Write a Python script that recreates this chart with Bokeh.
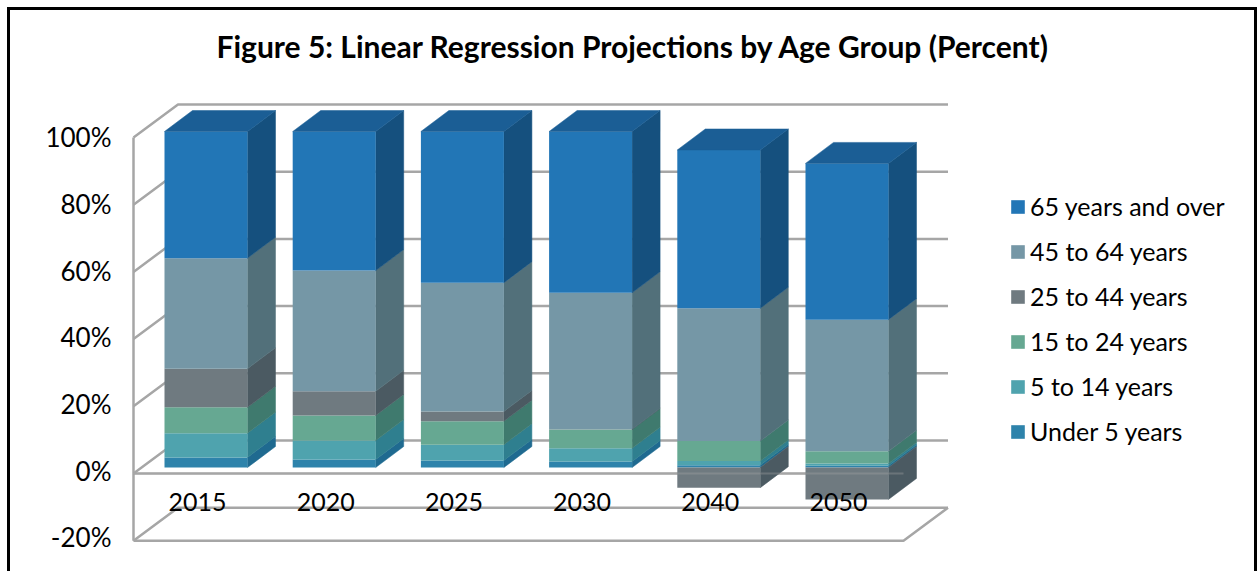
from bokeh.plotting import figure
from bokeh.embed import file_html
from bokeh.resources import INLINE
from bokeh.models import Range1d, FixedTicker, Legend, LegendItem, NumeralTickFormatter

years = ["2015", "2020", "2025", "2030", "2040", "2050"]
under_5 = [3.0, 2.4, 2.1, 1.8, 0.7, 0.5]
age_5_14 = [7.2, 5.6, 4.7, 3.9, 1.2, 0.7]
age_15_24 = [7.7, 7.5, 7.0, 5.6, 6.0, 3.6]
age_25_44 = [11.5, 7.2, 2.9, 0.1, -6.0, -9.5]
age_45_64 = [32.9, 35.9, 38.3, 40.6, 39.5, 39.2]
age_65_up = [37.7, 41.4, 45.0, 48.0, 47.1, 46.5]
series_names = ["Under 5 years", "5 to 14 years", "15 to 24 years", "25 to 44 years", "45 to 64 years", "65 years and over"]
y_ticks = [-20, 0, 20, 40, 60, 80, 100]

series = [under_5, age_5_14, age_15_24, age_25_44, age_45_64, age_65_up]
front = ["#2e83ab", "#4fa3ae", "#66a892", "#6f7a80", "#7597a6", "#2276b6"]
side = ["#1f6a90", "#2f7f8f", "#3f7a6e", "#4b5a62", "#52707a", "#15507e"]
top_col = "#1b5e95"
FONT = "Lato"

# page geometry (px)
BOX_L, BOX_T, BOX_W, BOX_H = 7, 7, 1250, 564
CV_L, CV_T = BOX_L + 3, BOX_T + 3
FR_L, FR_T, FR_R, FR_B = 116, 68, 1250, 555
SX, SY = 128.2, 3.36           # px per category, px per percent
def yr(zero_px, s):
    return Range1d(start=(zero_px - FR_B) / s, end=(zero_px - FR_T) / s)
def xr(zero_px):
    return Range1d(start=(FR_L - zero_px) / SX, end=(FR_R - zero_px) / SX)

p = figure(width=BOX_W, height=BOX_H, output_backend="svg", toolbar_location=None,
           x_range=xr(197), y_range=yr(470, 400 / 120),
           min_border_left=FR_L - CV_L, min_border_right=10,
           min_border_top=FR_T - CV_T, min_border_bottom=19,
           background_fill_color="white", border_fill_color="white",
           styles={"margin-left": f"{BOX_L}px", "margin-top": f"{BOX_T}px",
                   "border-left": "3px solid #000", "border-right": "3px solid #000",
                   "border-top": "3px solid #000", "box-sizing": "border-box"})
p.extra_x_ranges = {"bars": xr(205.5)}
p.extra_y_ranges = {"bars": yr(467, SY), "wall": yr(473, SY)}
p.outline_line_color = None
p.grid.visible = False

p.title.text = "Figure 5: Linear Regression Projections by Age Group (Percent)"
p.title.text_font = FONT
p.title.text_font_style = "bold"
p.title.text_font_size = "30px"
p.title.text_color = "#000000"
p.title.align = "left"
p.title.offset = 216 - FR_L

ya = p.yaxis[0]
ya.ticker = FixedTicker(ticks=y_ticks)
ya.formatter = NumeralTickFormatter(format="0")
ya.major_label_overrides = {t: f"{t}%" for t in y_ticks}
ya.axis_line_color = None
ya.major_tick_line_color = None
ya.minor_tick_line_color = None
ya.major_tick_out = 0
ya.major_tick_in = 0
ya.major_label_text_font = FONT
ya.major_label_text_font_size = "26px"
ya.major_label_text_color = "#000000"
ya.major_label_standoff = 5

xa = p.xaxis[0]
xa.ticker = FixedTicker(ticks=list(range(len(years))))
xa.major_label_overrides = {i: y for i, y in enumerate(years)}
xa.axis_line_color = None
xa.major_tick_line_color = None
xa.minor_tick_line_color = None
xa.major_tick_out = 0
xa.major_tick_in = 0
xa.major_label_text_font = FONT
xa.major_label_text_font_size = "25px"
xa.major_label_text_color = "#000000"
xa.major_label_standoff = -63

# walls
GRID = "#a6a6a6"
LW = 2.5
x_front_l, x_front_r = (133 - 205.5) / SX, (903 - 205.5) / SX
wdx, wdy = 44.5 / SX, 33 / SY
for t in y_ticks:
    p.line([x_front_l, x_front_l + wdx, x_front_r + wdx], [t, t + wdy, t + wdy],
           x_range_name="bars", y_range_name="wall", line_color=GRID, line_width=LW)
p.line([x_front_l, x_front_l], [y_ticks[0], y_ticks[-1]], x_range_name="bars", y_range_name="wall",
       line_color=GRID, line_width=LW)
p.line([x_front_l, x_front_r, x_front_r + wdx], [-20, -20, -20 + wdy], x_range_name="bars", y_range_name="wall",
       line_color=GRID, line_width=LW)
p.line([x_front_l, x_front_r], [0, 0], x_range_name="bars", y_range_name="wall",
       line_color=GRID, line_width=LW)

# bars
bw = 83 / SX
bdx, bdy = 28 / SX, 21 / SY
renderers = {}
pos = [0.0] * len(years)
neg = [0.0] * len(years)
for k, vals in enumerate(series):
    xs_side, ys_side, bottoms, tops = [], [], [], []
    for i, v in enumerate(vals):
        if v >= 0:
            b, t = pos[i], pos[i] + v
            pos[i] = t
        else:
            t, b = neg[i], neg[i] + v
            neg[i] = b
        bottoms.append(b)
        tops.append(t)
        xr_ = i + bw / 2
        xs_side.append([xr_, xr_ + bdx, xr_ + bdx, xr_])
        ys_side.append([b, b + bdy, t + bdy, t])
    p.patches(xs_side, ys_side, x_range_name="bars", y_range_name="bars",
              fill_color=side[k], line_color=side[k], line_width=0.5)
    renderers[k] = p.vbar(x=list(range(len(years))), width=bw, bottom=bottoms, top=tops,
                          x_range_name="bars", y_range_name="bars",
                          fill_color=front[k], line_color=None)
xs_top, ys_top = [], []
for i, t in enumerate(pos):
    xs_top.append([i - bw / 2, i - bw / 2 + bdx, i + bw / 2 + bdx, i + bw / 2])
    ys_top.append([t, t + bdy, t + bdy, t])
p.patches(xs_top, ys_top, x_range_name="bars", y_range_name="bars",
          fill_color=top_col, line_color=top_col, line_width=0.5)

# zero line showing through the bars that go below zero
p.line([x_front_l, x_front_r], [0, 0], x_range_name="bars", y_range_name="wall",
       line_color=GRID, line_width=2, line_alpha=0.35)

legend = Legend(items=[LegendItem(label=series_names[k], renderers=[renderers[k]]) for k in range(5, -1, -1)],
                location=(1009 - FR_L, FR_B - 446), orientation="vertical",
                padding=0, margin=0, spacing=15, glyph_width=17, glyph_height=17, label_height=20,
                label_standoff=4, background_fill_alpha=0, border_line_color=None,
                label_text_font=FONT, label_text_font_size="25px", label_text_color="#000000")
p.add_layout(legend, "center")

open("out.html", "w").write(file_html(p, INLINE))
